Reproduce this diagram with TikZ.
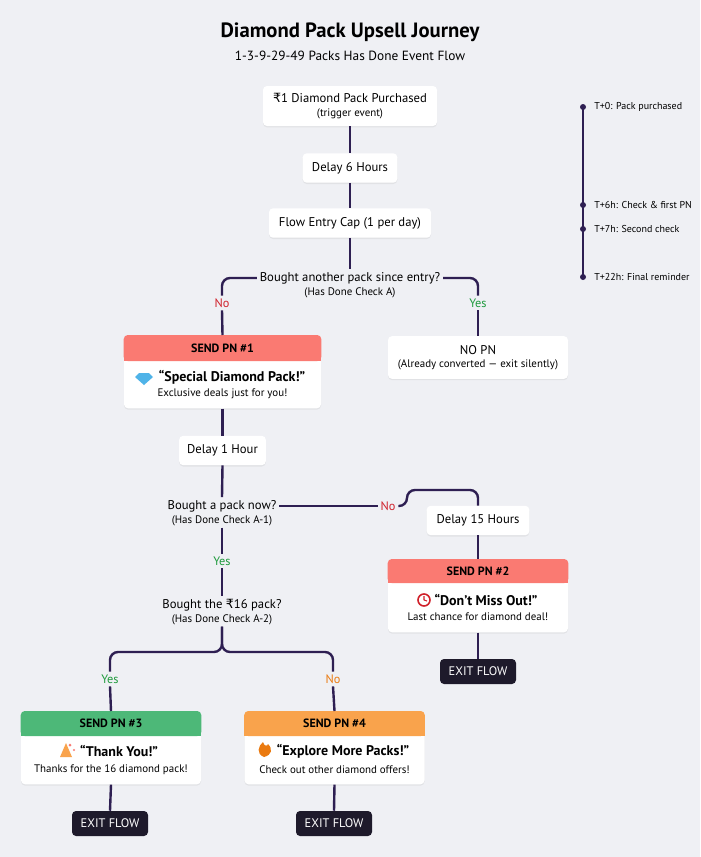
\documentclass[tikz,border=0pt]{standalone}
\usepackage{fontspec}
\setmainfont{PT Sans}
\newfontfamily\rupfont{DejaVu Sans}
\newcommand{\rup}{{\rupfont ₹}}
\usetikzlibrary{shadows}
\definecolor{bgc}{HTML}{EFF0F4}
\definecolor{flowc}{HTML}{2E1F52}
\definecolor{hdrred}{HTML}{FA7A72}
\definecolor{hdrgreen}{HTML}{4DB878}
\definecolor{hdrorange}{HTML}{F9A34C}
\definecolor{nored}{HTML}{D0202A}
\definecolor{yesgreen}{HTML}{1E9A3C}
\definecolor{noorange}{HTML}{EA7A10}
\definecolor{exitc}{HTML}{1E1A2B}
\definecolor{gemblue}{HTML}{4FB3E8}

\tikzset{
  flow/.style={draw=flowc, line width=1.8pt, rounded corners=6pt},
  stepbox/.style={fill=white, rounded corners=3pt, inner sep=0pt, align=center,
    font=\fontsize{9.5}{11}\selectfont, drop shadow={opacity=0.12, shadow xshift=0pt, shadow yshift=-1pt}},
  card/.style={stepbox, minimum width=135pt, minimum height=54.75pt, anchor=north},
  hdr/.style={font=\fontsize{9}{10}\selectfont\bfseries},
  msg/.style={font=\fontsize{10.5}{12}\selectfont\bfseries},
  sub/.style={font=\fontsize{8.2}{9}\selectfont},
  ask/.style={font=\fontsize{9.5}{11}\selectfont, fill=bgc, inner sep=2pt},
  note/.style={font=\fontsize{8.2}{9}\selectfont, inner sep=1pt},
  lbl/.style={font=\fontsize{9.2}{10}\selectfont, fill=bgc, inner sep=2pt},
  exit/.style={fill=exitc, text=white, rounded corners=3pt, minimum width=57pt,
    minimum height=18.75pt, font=\fontsize{9.3}{10}\selectfont},
  tick/.style={font=\fontsize{7.5}{8}\selectfont, anchor=west}
}

\begin{document}
\begin{tikzpicture}[x=0.75pt, y=-0.75pt]

\useasboundingbox (0,0) rectangle (700,857);
\fill[bgc] (0,0) rectangle (700,857);

% Title
\node[font=\fontsize{15.5}{18}\selectfont\bfseries] (title) at (350,32) {Diamond Pack Upsell Journey};
\node[font=\fontsize{10}{12}\selectfont] (subtitle) at (350,56) {1-3-9-29-49 Packs Has Done Event Flow};

% Trigger and entry steps
\node[stepbox, minimum width=130.5pt, minimum height=30pt] (start) at (350,106)
  {\rup1 Diamond Pack Purchased\\[-1pt]{\fontsize{8.2}{9}\selectfont (trigger event)}};
\node[stepbox, minimum width=71pt, minimum height=22pt] (delay6) at (350,168) {Delay 6 Hours};
\node[stepbox, minimum width=121.5pt, minimum height=22pt] (cap) at (350,223) {Flow Entry Cap (1 per day)};

\draw[flow] (start.south) -- (delay6.north);
\draw[flow] (delay6.south) -- (cap.north);

% Check A
\node[ask] (chkA) at (350,278) {Bought another pack since entry?};
\node[note] (chkAn) at (350,293) {(Has Done Check A)};
\draw[flow] (cap.south) -- (chkA.north);

\node[lbl, text=nored] (noA) at (222,303) {No};
\node[lbl, text=yesgreen] (yesA) at (478,303) {Yes};
\draw[flow] (chkA.west) -| (noA.north);
\draw[flow] (chkA.east) -| (yesA.north);

% PN #1
\node[card, minimum width=147.75pt] (pn1) at (222.5,335) {};
\fill[hdrred, rounded corners=3pt] (pn1.north west) rectangle ([yshift=-19.5pt]pn1.north east);
\fill[hdrred] ([yshift=-10pt]pn1.north west) rectangle ([yshift=-19.5pt]pn1.north east);
\node[hdr] (pn1h) at ([yshift=-9.75pt]pn1.north) {SEND PN \#1};
\fill[gemblue] (139,373) -- (149,373) -- (153,377) -- (144,385) -- (135,377) -- cycle;
\node[msg] (pn1m) at (232,377) {“Special Diamond Pack!”};
\node[sub] (pn1s) at (222.5,394) {Exclusive deals just for you!};
\draw[flow] (noA.south) -- (pn1.north);

\node[stepbox, minimum width=135pt, minimum height=32pt] (nopn) at (478,357.5)
  {NO PN\\[-1pt]{\fontsize{8.2}{9}\selectfont (Already converted --- exit silently)}};
\draw[flow] (yesA.south) -- (nopn.north);

\node[stepbox, minimum width=65pt, minimum height=22pt] (delay1) at (222.5,450.5) {Delay 1 Hour};
\draw[flow] (pn1.south) -- (delay1.north);

% Check A-1
\node[ask] (chkB) at (222,506) {Bought a pack now?};
\node[note] (chkBn) at (222,521) {(Has Done Check A-1)};
\draw[flow] (delay1.south) -- (chkB.north);

\node[lbl, text=nored] (noB) at (388,506) {No};
\node[stepbox, minimum width=77pt, minimum height=22pt] (delay15) at (478,520.5) {Delay 15 Hours};
\draw[flow] (chkB.east) -- (noB.west);
\draw[flow] (noB.east) -- (407,506) -- (407,490) -- (478,490) -- (delay15.north);

\node[lbl, text=yesgreen] (yesB) at (222,561) {Yes};
\draw[flow] (chkBn.south) -- (yesB.north);

% PN #2
\node[card] (pn2) at (478,559) {};
\fill[hdrred, rounded corners=3pt] (pn2.north west) rectangle ([yshift=-18pt]pn2.north east);
\fill[hdrred] ([yshift=-10pt]pn2.north west) rectangle ([yshift=-18pt]pn2.north east);
\node[hdr] (pn2h) at ([yshift=-9pt]pn2.north) {SEND PN \#2};
\draw[nored, line width=1.2pt, fill=white] (424,600) circle (6);
\draw[nored, line width=0.8pt] (424,600) -- (424,596) (424,600) -- (427,601);
\node[msg] (pn2m) at (486,600) {“Don’t Miss Out!”};
\node[sub] (pn2s) at (478,617) {Last chance for diamond deal!};
\draw[flow] (delay15.south) -- (pn2.north);

\node[exit] (exit2) at (478,671.5) {EXIT FLOW};
\draw[flow] (pn2.south) -- (exit2.north);

% Check A-2
\node[ask] (chkC) at (222,605) {Bought the \rup16 pack?};
\node[note] (chkCn) at (222,620) {(Has Done Check A-2)};
\draw[flow] (yesB.south) -- (chkC.north);

\node[lbl, text=yesgreen] (yesC) at (110,679) {Yes};
\node[lbl, text=noorange] (noC) at (333,679) {No};
\draw[flow] (chkCn.south) -- (222,652) -| (yesC.north);
\draw[flow] (chkCn.south) -- (222,652) -| (noC.north);

% PN #3
\node[card] (pn3) at (111,711) {};
\fill[hdrgreen, rounded corners=3pt] (pn3.north west) rectangle ([yshift=-18.75pt]pn3.north east);
\fill[hdrgreen] ([yshift=-10pt]pn3.north west) rectangle ([yshift=-18.75pt]pn3.north east);
\node[hdr] (pn3h) at ([yshift=-9.4pt]pn3.north) {SEND PN \#3};
\fill[hdrorange] (60,757) -- (66,743) -- (72,757) -- cycle;
\fill[hdrred] (70,745) circle (1.5) (74,750) circle (1.2);
\node[msg] (pn3m) at (119,751) {“Thank You!”};
\node[sub] (pn3s) at (111,770) {Thanks for the 16 diamond pack!};
\draw[flow] (yesC.south) -- (pn3.north);

% PN #4
\node[card] (pn4) at (334.5,711) {};
\fill[hdrorange, rounded corners=3pt] (pn4.north west) rectangle ([yshift=-18.75pt]pn4.north east);
\fill[hdrorange] ([yshift=-10pt]pn4.north west) rectangle ([yshift=-18.75pt]pn4.north east);
\node[hdr] (pn4h) at ([yshift=-9.4pt]pn4.north) {SEND PN \#4};
\fill[noorange] (264,757) .. controls (256,754) and (258,746) .. (263,742)
  .. controls (264,747) and (268,746) .. (268,744) .. controls (273,749) and (272,755) .. cycle;
\node[msg] (pn4m) at (343,751) {“Explore More Packs!”};
\node[sub] (pn4s) at (334.5,770) {Check out other diamond offers!};
\draw[flow] (noC.south) -- (pn4.north);

\node[exit] (exit3) at (110,823.5) {EXIT FLOW};
\node[exit] (exit4) at (334,823.5) {EXIT FLOW};
\draw[flow] (pn3.south) -- (exit3.north);
\draw[flow] (pn4.south) -- (exit4.north);

% Timeline
\coordinate (t0) at (583,107);
\coordinate (t6) at (583,205);
\coordinate (t7) at (583,229);
\coordinate (t22) at (583,277);
\draw[flowc, line width=1.3pt] (t0) -- (t22);
\foreach \p/\txt in {t0/T+0: Pack purchased, t6/T+6h: Check \& first PN,
                     t7/T+7h: Second check, t22/T+22h: Final reminder}
  \fill[flowc] (\p) circle (3) node[tick, text=black] at ([xshift=5pt]\p) {\txt};

\end{tikzpicture}
\end{document}
